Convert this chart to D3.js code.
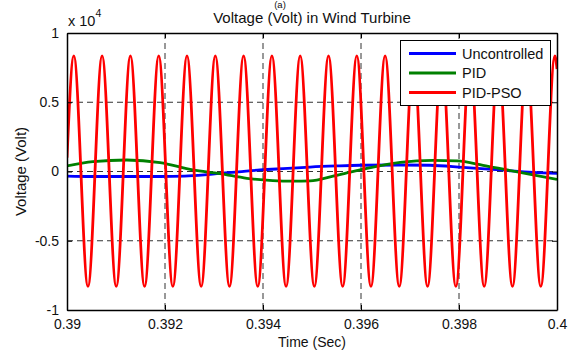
<!DOCTYPE html>
<html><head><meta charset="utf-8">
<script src="https://cdn.jsdelivr.net/npm/d3@7"></script>
<style>
html,body{margin:0;padding:0;background:#fff;}
svg{display:block;font-family:"Liberation Sans",Arial,Helvetica,sans-serif;}
</style></head>
<body>
<script>
// ---- data (voltage in units of 1e4 V) ----
const xTicks = [0.39, 0.392, 0.394, 0.396, 0.398, 0.4];
const xTickLabels = ["0.39", "0.392", "0.394", "0.396", "0.398", "0.4"];
const yTicks = [-1, -0.5, 0, 0.5, 1];
const yTickLabels = ["-1", "-0.5", "0", "0.5", "1"];
const seriesNames = ["Uncontrolled", "PID", "PID-PSO"];
const seriesColors = ["#0000ff", "#008000", "#ff0000"];

const uncontrolledT = [0.39000, 0.39050, 0.39120, 0.39190, 0.39240, 0.39280, 0.39312, 0.39350, 0.39394, 0.39450, 0.39496, 0.39550, 0.39598, 0.39680, 0.39741, 0.39808, 0.39884, 0.39951, 0.40000];
const uncontrolledV = [-0.033, -0.036, -0.036, -0.036, -0.034, -0.025, -0.013, -0.002, 0.011, 0.022, 0.032, 0.040, 0.045, 0.047, 0.045, 0.030, 0.011, -0.006, -0.014];

const pidT = [0.39000, 0.39053, 0.39122, 0.39190, 0.39257, 0.39312, 0.39367, 0.39420, 0.39461, 0.39496, 0.39543, 0.39578, 0.39612, 0.39680, 0.39747, 0.39796, 0.39849, 0.39898, 0.39951, 0.40000];
const pidV = [0.040, 0.071, 0.083, 0.064, 0.011, -0.015, -0.049, -0.066, -0.070, -0.068, -0.034, -0.005, 0.023, 0.066, 0.080, 0.076, 0.045, 0.011, -0.025, -0.057];

const psoT = [0.39000, 0.390139, 0.390428, 0.390716, 0.391005, 0.391294, 0.391583, 0.391872, 0.392160, 0.392449, 0.392738, 0.393027, 0.393316, 0.393604, 0.393893, 0.394182, 0.394471, 0.394759, 0.395048, 0.395337, 0.395626, 0.395914, 0.396203, 0.396492, 0.396781, 0.397070, 0.397358, 0.397647, 0.397936, 0.398225, 0.398514, 0.398802, 0.399091, 0.399380, 0.399669, 0.399957, 0.40000];
const psoV = [0.10, 0.835, -0.83, 0.835, -0.83, 0.835, -0.83, 0.835, -0.83, 0.835, -0.83, 0.835, -0.83, 0.835, -0.83, 0.835, -0.83, 0.835, -0.83, 0.835, -0.83, 0.835, -0.83, 0.835, -0.83, 0.835, -0.83, 0.835, -0.83, 0.835, -0.83, 0.835, -0.83, 0.835, -0.83, 0.835, 0.74];

// ---- layout ----
const W = 579, H = 354;
const m = {left: 67, right: 22, top: 33, bottom: 44};
const pw = W - m.left - m.right, ph = H - m.top - m.bottom;

const svg = d3.select("body").append("svg").attr("width", W).attr("height", H);
const x = d3.scaleLinear().domain([0.39, 0.4]).range([m.left, m.left + pw]);
const y = d3.scaleLinear().domain([-1, 1]).range([m.top + ph, m.top]);

svg.append("defs").append("clipPath").attr("id", "clip")
  .append("rect").attr("x", m.left).attr("y", m.top).attr("width", pw).attr("height", ph);

// grid
const grid = svg.append("g").attr("stroke", "#333").attr("stroke-width", 1).attr("stroke-dasharray", "6,4");
xTicks.slice(1, -1).forEach(t => grid.append("line").attr("x1", x(t)).attr("x2", x(t)).attr("y1", m.top).attr("y2", m.top + ph));
yTicks.slice(1, -1).forEach(t => grid.append("line").attr("y1", y(t)).attr("y2", y(t)).attr("x1", m.left).attr("x2", m.left + pw));

// lines
const series = [
  {t: uncontrolledT, v: uncontrolledV},
  {t: pidT, v: pidV},
  {t: psoT, v: psoV}
];
const plot = svg.append("g").attr("clip-path", "url(#clip)");
series.forEach((s, i) => {
  const pts = s.t.map((t, j) => [t, s.v[j]]);
  plot.append("path").datum(pts)
    .attr("fill", "none").attr("stroke", seriesColors[i]).attr("stroke-width", 2.8)
    .attr("stroke-linejoin", "round")
    .attr("d", d3.line().x(d => x(d[0])).y(d => y(d[1])).curve(d3.curveMonotoneX));
});

// axes (MATLAB style: inward ticks, box)
const axB = d3.axisBottom(x).tickValues(xTicks).tickFormat((d, i) => xTickLabels[i]).tickSizeInner(-5).tickSizeOuter(0).tickPadding(9);
const axT = d3.axisTop(x).tickValues(xTicks).tickFormat("").tickSizeInner(-5).tickSizeOuter(0);
const axL = d3.axisLeft(y).tickValues(yTicks).tickFormat((d, i) => yTickLabels[i]).tickSizeInner(-5).tickSizeOuter(0).tickPadding(8);
const axR = d3.axisRight(y).tickValues(yTicks).tickFormat("").tickSizeInner(-5).tickSizeOuter(0);

function style(g, fs) {
  g.selectAll("path").attr("stroke", "#000").attr("stroke-width", 1.5);
  g.selectAll("line").attr("stroke", "#000").attr("stroke-width", 1);
  g.selectAll("text").attr("fill", "#111").style("font-size", fs + "px")
    .style("font-family", "'Liberation Sans', Arial, Helvetica, sans-serif");
}
style(svg.append("g").attr("transform", `translate(0,${m.top + ph})`).call(axB), 14);
style(svg.append("g").attr("transform", `translate(0,${m.top})`).call(axT), 14);
style(svg.append("g").attr("transform", `translate(${m.left},0)`).call(axL), 14);
style(svg.append("g").attr("transform", `translate(${m.left + pw},0)`).call(axR), 14);

// titles
svg.append("text").attr("x", 280).attr("y", 8).attr("text-anchor", "middle")
  .style("font-size", "9.5px").attr("fill", "#111").text("(a)");
svg.append("text").attr("x", m.left + pw / 2).attr("y", 23).attr("text-anchor", "middle")
  .style("font-size", "15px").attr("fill", "#111").text("Voltage (Volt) in Wind Turbine");
svg.append("text").attr("x", m.left + pw / 2).attr("y", 347).attr("text-anchor", "middle")
  .style("font-size", "14px").attr("fill", "#111").text("Time (Sec)");
svg.append("text").attr("transform", `translate(26,${m.top + ph / 2}) rotate(-90)`).attr("text-anchor", "middle")
  .style("font-size", "15px").attr("fill", "#111").text("Voltage (Volt)");
const ex = svg.append("text").attr("x", 68).attr("y", 26).style("font-size", "14.5px").attr("fill", "#111");
ex.append("tspan").text("x 10");
ex.append("tspan").attr("dy", -9).style("font-size", "10.5px").text("4");

// legend
const lg = svg.append("g");
lg.append("rect").attr("x", 400.5).attr("y", 40.5).attr("width", 150).attr("height", 65)
  .attr("fill", "#fff").attr("stroke", "#000").attr("stroke-width", 1);
const rows = [53.5, 73, 92.5];
seriesNames.forEach((n, i) => {
  lg.append("line").attr("x1", 409).attr("x2", 456).attr("y1", rows[i]).attr("y2", rows[i])
    .attr("stroke", seriesColors[i]).attr("stroke-width", 2.8);
  lg.append("text").attr("x", 462).attr("y", rows[i] + 5).style("font-size", "14.5px")
    .attr("fill", "#111").text(n);
});
</script>
</body></html>
